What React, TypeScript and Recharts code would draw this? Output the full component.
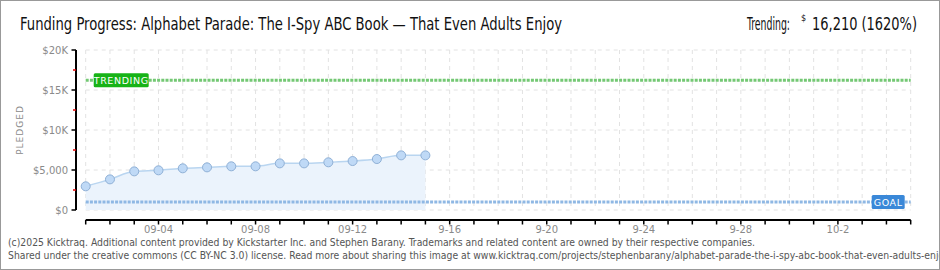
import React from 'react';
import { ComposedChart, Area, XAxis, YAxis, CartesianGrid, ReferenceLine } from 'recharts';

// daily pledged totals, campaign days 09-01 .. 09-15
const dates = ['09-01', '09-02', '09-03', '09-04', '09-05', '09-06', '09-07', '09-08', '09-09', '09-10', '09-11', '09-12', '09-13', '09-14', '09-15'];
const pledged = [2960, 3830, 4830, 4960, 5210, 5330, 5460, 5460, 5830, 5830, 5960, 6120, 6370, 6830, 6830];

const trending = 16210;
const goal = 1000;

// x axis runs 09-01 (day 0) to 10-05 (day 34)
const lastDay = 34;
const xTicks = Array.from({ length: lastDay + 1 }, (_, i) => i);
const xLabelDays = [3, 7, 11, 15, 19, 23, 27, 31];
const xLabels = ['09-04', '09-08', '09-12', '9-16', '9-20', '9-24', '9-28', '10-2'];

const yTicks = [0, 2500, 5000, 7500, 10000, 12500, 15000, 17500, 20000];
const yGrid = [0, 5000, 10000, 15000, 20000];

const data = dates.map((date, i) => ({ day: i, date, pledged: pledged[i] }));

const axisFont = 'DejaVu Sans, sans-serif';
const titleFont = 'Liberation Sans Narrow, DejaVu Sans Condensed, sans-serif';
const footFont = 'DejaVu Sans Condensed, sans-serif';

// the axes sit a little away from the plot area
const xGap = 10;
const yGap = 9.7;

const fmtMoney = (v: number) => {
  if (v === 0) return '$0';
  if (v < 10000) return '$' + v.toLocaleString('en-US');
  return '$' + v / 1000 + 'K';
};

const YTick = (props: any) => {
  const { x, y, payload } = props;
  const v = payload.value;
  const major = v % 5000 === 0;
  const ax = x - yGap;
  return (
    <g>
      <line x1={major ? ax - 4.5 : ax - 3} x2={ax} y1={y} y2={y} stroke={major ? '#000' : '#e00000'} strokeWidth={1.5} />
      {major && (
        <text x={ax - 8} y={y} dy={3.5} textAnchor="end" fill="#8a8a8a" fontSize={10} fontFamily={axisFont}>
          {fmtMoney(v)}
        </text>
      )}
    </g>
  );
};

const XTick = (props: any) => {
  const { x, y, payload } = props;
  const idx = xLabelDays.indexOf(payload.value);
  const ay = y + xGap;
  return (
    <g>
      <line x1={x} x2={x} y1={ay} y2={ay + 4.5} stroke="#000" strokeWidth={1.5} />
      {idx >= 0 && (
        <text x={x} y={ay + 13} textAnchor="middle" fill="#8a8a8a" fontSize={10} fontFamily={axisFont}>
          {xLabels[idx]}
        </text>
      )}
    </g>
  );
};

const TagLabel = (props: any) => {
  const { viewBox, text, fill, w, side } = props;
  const bx = side === 'left' ? viewBox.x + 8 : viewBox.x + viewBox.width - 6 - w;
  const cy = viewBox.y;
  return (
    <g>
      <rect x={bx} y={cy - 7} width={w} height={14} rx={1.5} fill={fill} />
      <text x={bx + w / 2} y={cy + 3.5} textAnchor="middle" fill="#fff" fontSize={9.5} fontFamily={axisFont} letterSpacing={0.6}>
        {text}
      </text>
    </g>
  );
};

export default function App() {
  return (
    <div style={{ position: 'absolute', left: 0, top: 0, width: 940, height: 270, background: '#fff' }}>
      <svg width={940} height={270} style={{ position: 'absolute', left: 0, top: 0 }}>
        <text x={20} y={30} fontSize={17} fontFamily={titleFont} fill="#111" textLength={542} lengthAdjust="spacingAndGlyphs">
          Funding Progress: Alphabet Parade: The I-Spy ABC Book — That Even Adults Enjoy
        </text>
        <text x={747} y={30} fontSize={17} fontFamily={titleFont} fill="#111" textLength={43} lengthAdjust="spacingAndGlyphs">Trending:</text>
        <text x={801} y={21} fontSize={9} fontFamily={titleFont} fill="#111">$</text>
        <text x={812} y={30} fontSize={17} fontFamily={titleFont} fill="#111" textLength={105} lengthAdjust="spacingAndGlyphs">16,210 (1620%)</text>
        <text x={20} y={130} fontSize={9} fontFamily={axisFont} fill="#8a8a8a" letterSpacing={1} textAnchor="middle" transform="rotate(-90 20 130)" dy={3}>
          PLEDGED
        </text>
        <text x={8} y={246} fontSize={10.3} fontFamily={footFont} fill="#555" textLength={747} lengthAdjust="spacingAndGlyphs">
          (c)2025 Kicktraq. Additional content provided by Kickstarter Inc. and Stephen Barany. Trademarks and related content are owned by their respective companies.
        </text>
        <text x={8} y={259} fontSize={10.3} fontFamily={footFont} fill="#555">
          Shared under the creative commons (CC BY-NC 3.0) license. Read more about sharing this image at www.kicktraq.com/projects/stephenbarany/alphabet-parade-the-i-spy-abc-book-that-even-adults-enjoy/
        </text>
      </svg>
      <div style={{ position: 'absolute', left: 0, top: 0 }}>
        <ComposedChart width={940} height={270} data={data} margin={{ top: 50, right: 29.3, bottom: 20, left: 16 }}>
          <CartesianGrid stroke="#e2e2e2" strokeDasharray="4 4" horizontalValues={yGrid} verticalValues={xTicks} />
          <XAxis
            type="number"
            dataKey="day"
            domain={[0, lastDay]}
            ticks={xTicks}
            interval={0}
            height={40}
            tickSize={0}
            tickMargin={0}
            tickLine={false}
            axisLine={{ stroke: '#000', strokeWidth: 2, transform: `translate(0, ${xGap})` }}
            tick={<XTick />}
          />
          <YAxis
            domain={[0, 20000]}
            ticks={yTicks}
            interval={0}
            width={69.7}
            tickSize={0}
            tickMargin={0}
            tickLine={false}
            axisLine={{ stroke: '#000', strokeWidth: 2, transform: `translate(${-yGap}, 0)` }}
            tick={<YTick />}
          />
          <ReferenceLine
            y={trending}
            stroke="#74c874"
            strokeWidth={3}
            strokeDasharray="3 1.2"
            label={<TagLabel text="TRENDING" fill="#17b317" w={55} side="left" />}
          />
          <Area
            type="monotone"
            dataKey="pledged"
            stroke="#b9d5f0"
            strokeWidth={1.5}
            fill="#ebf3fc"
            fillOpacity={1}
            isAnimationActive={false}
            dot={{ r: 4.5, fill: '#bfd9f6', stroke: '#8fb0d6', strokeWidth: 1 }}
          />
          <ReferenceLine
            y={goal}
            stroke="#8fb8e4"
            strokeWidth={3}
            strokeDasharray="3 1.2"
            label={<TagLabel text="GOAL" fill="#3a88d8" w={33} side="right" />}
          />
        </ComposedChart>
      </div>
      <div style={{ position: 'absolute', left: 0, top: 0, width: 940, height: 270, boxSizing: 'border-box', border: '1px solid #999', pointerEvents: 'none' }} />
    </div>
  );
}
